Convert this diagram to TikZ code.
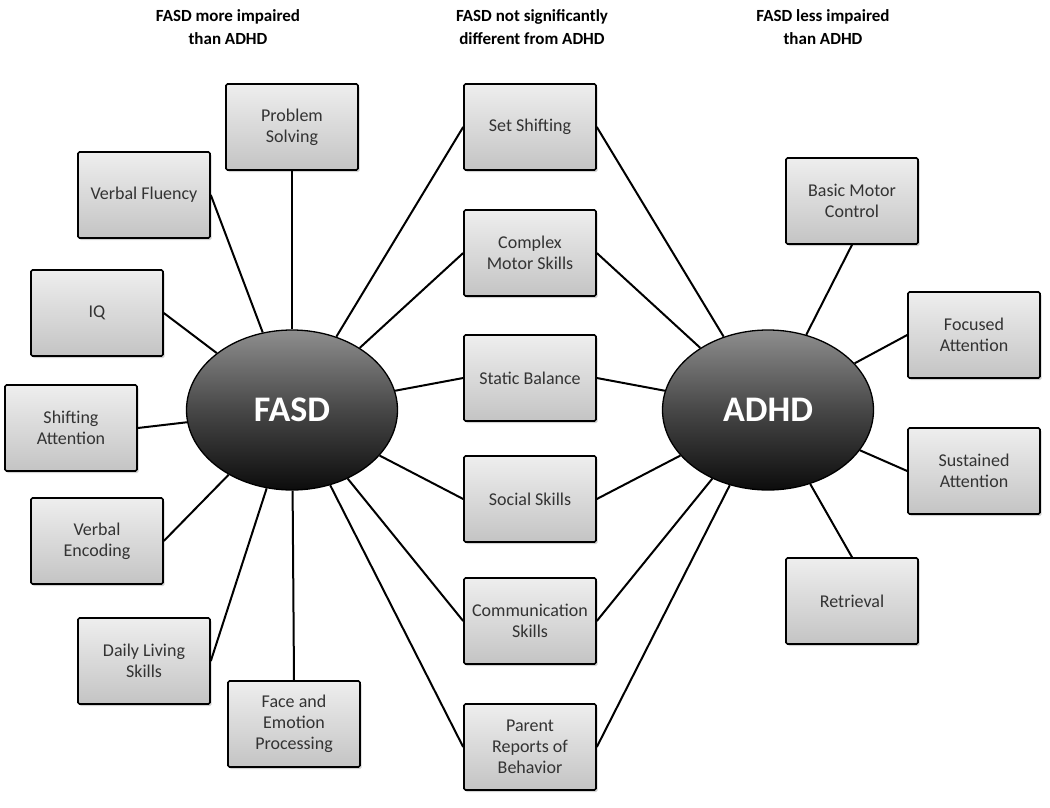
\documentclass[tikz,border=0pt]{standalone}
\usepackage{fontspec}
\setmainfont{Carlito}
\usetikzlibrary{shapes.geometric, shadows}
\definecolor{boxtop}{HTML}{EEEEEE}
\definecolor{boxbot}{HTML}{C4C4C4}
\definecolor{boxtext}{HTML}{333333}
\definecolor{ovaltop}{HTML}{8E8E8E}
\definecolor{ovalmid}{HTML}{474747}
\definecolor{ovalbot}{HTML}{0C0C0C}
\tikzset{
    skillbox/.style={
        draw=black, line width=1.6pt, rounded corners=1.5pt,
        top color=boxtop, bottom color=boxbot,
        minimum width=132pt, minimum height=86pt, inner sep=2pt,
        align=center, text=boxtext, font=\fontsize{18}{21}\selectfont,
        drop shadow={shadow xshift=1.5pt, shadow yshift=-2pt, opacity=0.35}
    },
    disorder/.style={
        draw=black, line width=1.3pt, ellipse, inner sep=0pt,
        minimum width=211pt, minimum height=160pt,
        top color=ovaltop, bottom color=ovalbot, middle color=ovalmid,
        text=white, font=\fontsize{36}{40}\selectfont\bfseries
    },
    header/.style={align=center, font=\fontsize{17}{23}\selectfont\bfseries},
    link/.style={line width=2pt}
}
\begin{document}
\begin{tikzpicture}[x=1pt, y=-1pt]
    \useasboundingbox (0,0) rectangle (1050,808);
    % column titles
    \node[header] (hl) at (228,27) {FASD more impaired\\than ADHD};
    \node[header] (hm) at (532,27) {FASD not significantly\\different from ADHD};
    \node[header] (hr) at (823,27) {FASD less impaired\\than ADHD};
    % the two groups
    \node[disorder] (fasd) at (292,410) {FASD};
    \node[disorder] (adhd) at (768,410) {ADHD};
    % FASD more impaired
    \node[skillbox] (ps) at (292,127) {Problem\\Solving};
    \node[skillbox] (vf) at (144,195) {Verbal Fluency};
    \node[skillbox] (iq) at (97,313) {IQ};
    \node[skillbox] (sa) at (71,428) {Shifting\\Attention};
    \node[skillbox] (ve) at (97,541) {Verbal\\Encoding};
    \node[skillbox] (dl) at (144,661) {Daily Living\\Skills};
    \node[skillbox] (fe) at (294,724) {Face and\\Emotion\\Processing};
    % no significant difference
    \node[skillbox] (ss) at (530,127) {Set Shifting};
    \node[skillbox] (cm) at (530,253) {Complex\\Motor Skills};
    \node[skillbox] (sb) at (530,378) {Static Balance};
    \node[skillbox] (so) at (530,499) {Social Skills};
    \node[skillbox] (cs) at (530,621) {Communication\\Skills};
    \node[skillbox] (pr) at (530,747) {Parent\\Reports of\\Behavior};
    % FASD less impaired
    \node[skillbox] (bm) at (852,201) {Basic Motor\\Control};
    \node[skillbox] (fa) at (974,335) {Focused\\Attention};
    \node[skillbox] (su) at (974,471) {Sustained\\Attention};
    \node[skillbox] (re) at (852,601) {Retrieval};
    % connectors
    \foreach \b/\s in {ps/south, vf/east, iq/east, sa/east, ve/east, dl/east, fe/north}
        \draw[link] (\b.\s) -- (fasd);
    \foreach \b in {ss, cm, sb, so, cs, pr}
    {
        \draw[link] (\b.west) -- (fasd);
        \draw[link] (\b.east) -- (adhd);
    }
    \foreach \b/\s in {bm/south, fa/west, su/west, re/north}
        \draw[link] (\b.\s) -- (adhd);
\end{tikzpicture}
\end{document}
